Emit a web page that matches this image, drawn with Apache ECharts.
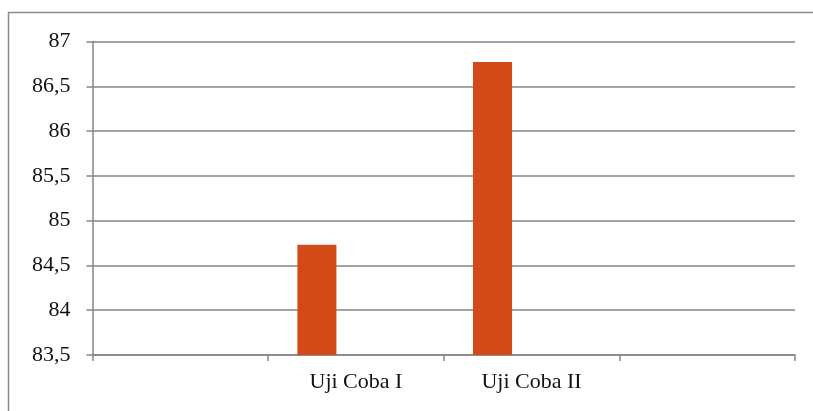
<!DOCTYPE html>
<html>
<head>
<meta charset="utf-8">
<script src="https://cdn.jsdelivr.net/npm/echarts@6/dist/echarts.min.js"></script>
<style>
  html, body { margin: 0; padding: 0; background: #fff; }
  #chart { width: 813px; height: 411px; }
</style>
</head>
<body>
<div id="chart"></div>
<script>
// categories on the x axis (first and last are empty slots)
var categories = ['', 'Uji Coba I', 'Uji Coba II', ''];
// the only series with values; two more empty series share the slots
var nilai = ['-', 84.73, 86.77, '-'];
var kosong = ['-', '-', '-', '-'];
var yTicks = [83.5, 84, 84.5, 85, 85.5, 86, 86.5, 87];

var gray = '#858585';
var font = '"Liberation Serif", "DejaVu Serif", serif';

var chart = echarts.init(document.getElementById('chart'));
chart.setOption({
  animation: false,
  backgroundColor: '#fff',
  graphic: [{
    type: 'rect',
    shape: { x: 8.5, y: 12.5, width: 840, height: 440 },
    style: { fill: 'none', stroke: '#8a8a8a', lineWidth: 1.5 },
    silent: true
  }],
  grid: { left: 92.5, right: 18, top: 41.5, bottom: 56 },
  xAxis: {
    type: 'category',
    data: categories,
    axisLine: { show: true, lineStyle: { color: gray, width: 1.5 } },
    axisTick: { show: true, length: 6, alignWithLabel: false, lineStyle: { color: gray, width: 1.5 } },
    axisLabel: { color: '#111', fontFamily: font, fontSize: 22, margin: 16, interval: 0 }
  },
  yAxis: {
    type: 'value',
    min: yTicks[0],
    max: yTicks[yTicks.length - 1],
    interval: 0.5,
    axisLine: { show: true, lineStyle: { color: gray, width: 1.5 } },
    axisTick: { show: true, length: 6, lineStyle: { color: gray, width: 1.5 } },
    splitLine: { show: true, lineStyle: { color: gray, width: 1.5 } },
    axisLabel: {
      color: '#111', fontFamily: font, fontSize: 22, margin: 22,
      formatter: function (v) { return String(v).replace('.', ','); }
    }
  },
  series: [
    { type: 'bar', data: nilai, barGap: '0%', barCategoryGap: '33.33%', itemStyle: { color: '#D34A18' } },
    { type: 'bar', data: kosong, barGap: '0%', barCategoryGap: '33.33%' },
    { type: 'bar', data: kosong, barGap: '0%', barCategoryGap: '33.33%' }
  ]
});
</script>
</body>
</html>
